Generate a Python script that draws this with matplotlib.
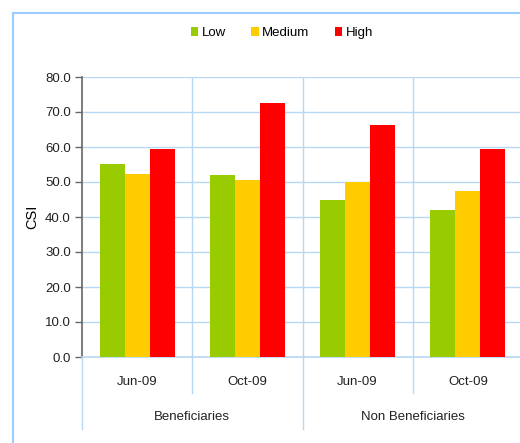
import matplotlib
matplotlib.use("Agg")
import matplotlib.pyplot as plt
import numpy as np
from matplotlib.patches import Patch, Rectangle
import matplotlib.transforms as mtransforms

plt.rcParams['font.family'] = ['Liberation Sans', 'DejaVu Sans']

# Data
periods = ["Jun-09", "Oct-09", "Jun-09", "Oct-09"]
groups = ["Beneficiaries", "Non Beneficiaries"]
series = ["Low", "Medium", "High"]
low = [55.2, 52.1, 44.9, 42.0]
medium = [52.4, 50.7, 50.0, 47.4]
high = [59.5, 72.6, 66.3, 59.3]
yticks = [0, 10, 20, 30, 40, 50, 60, 70, 80]

colors = ["#99CC00", "#FFCC00", "#FF0000"]
grid_color = "#B7D7F5"

W, H = 520, 443
fig = plt.figure(figsize=(W / 100, H / 100), dpi=100)
fig.patch.set_facecolor("white")

# Outer chart frame (extends beyond the right/bottom edges)
fig.patches.append(Rectangle((13 / W, -0.2), 2.0, (H - 13) / H + 0.2,
                             transform=fig.transFigure, fill=False,
                             edgecolor="#99CCFF", linewidth=1.5, zorder=0))

left_px, right_px, top_px, bot_px = 82, 523, 77, 357
ax = fig.add_axes([left_px / W, (H - bot_px) / H,
                   (right_px - left_px) / W, (bot_px - top_px) / H])

x = np.arange(len(periods))
bw = 0.227
for i, (vals, c, name) in enumerate(zip([low, medium, high], colors, series)):
    ax.bar(x + (i - 1) * bw, vals, width=bw, color=c, label=name, zorder=3)

ax.set_xlim(-0.5, len(periods) - 0.5)
ax.set_ylim(0, 80)
ax.set_yticks(yticks)
ax.set_yticklabels([f"{v:.1f}" for v in yticks], fontsize=9.5, color="#222222")
ax.set_xticks([])

# Gridlines
for v in yticks[1:]:
    ax.axhline(v, color=grid_color, lw=1.0, zorder=1)
for b in [0.5, 1.5, 2.5]:
    ax.axvline(b, color=grid_color, lw=1.0, zorder=1)

for s in ["top", "right"]:
    ax.spines[s].set_visible(False)
ax.spines["left"].set_color("#666666")
ax.spines["left"].set_linewidth(1.2)
ax.spines["bottom"].set_color(grid_color)
ax.spines["bottom"].set_linewidth(1.2)
ax.tick_params(axis="y", direction="out", length=5, width=1, color="#666666", pad=3)

ax.set_ylabel("CSI", fontsize=10.5, labelpad=4)

# Multi-level category axis
trans = mtransforms.blended_transform_factory(ax.transData, ax.transAxes)
for b in [0.5, 2.5]:
    ax.plot([b, b], [0, -0.129], transform=trans, color=grid_color, lw=1.0, clip_on=False)
for b in [-0.5, 1.5, 3.5]:
    ax.plot([b, b], [0, -0.257], transform=trans, color=grid_color, lw=1.0, clip_on=False)
for xi, p in zip(x, periods):
    ax.text(xi, -0.089, p, transform=trans, ha="center", va="center", fontsize=9.5, color="#222222")
for gi, g in enumerate(groups):
    ax.text(gi * 2 + 0.5, -0.216, g, transform=trans, ha="center", va="center", fontsize=9.5, color="#222222")

handles = [Patch(facecolor=c, edgecolor="none") for c in colors]
fig.legend(handles, series, loc="center", bbox_to_anchor=(0.542, 1 - 33 / H),
           ncol=3, frameon=False, fontsize=9.5, handlelength=0.6, handleheight=0.6,
           handletextpad=0.25, columnspacing=1.9)

fig.savefig("out.png", dpi=100, facecolor="white")
